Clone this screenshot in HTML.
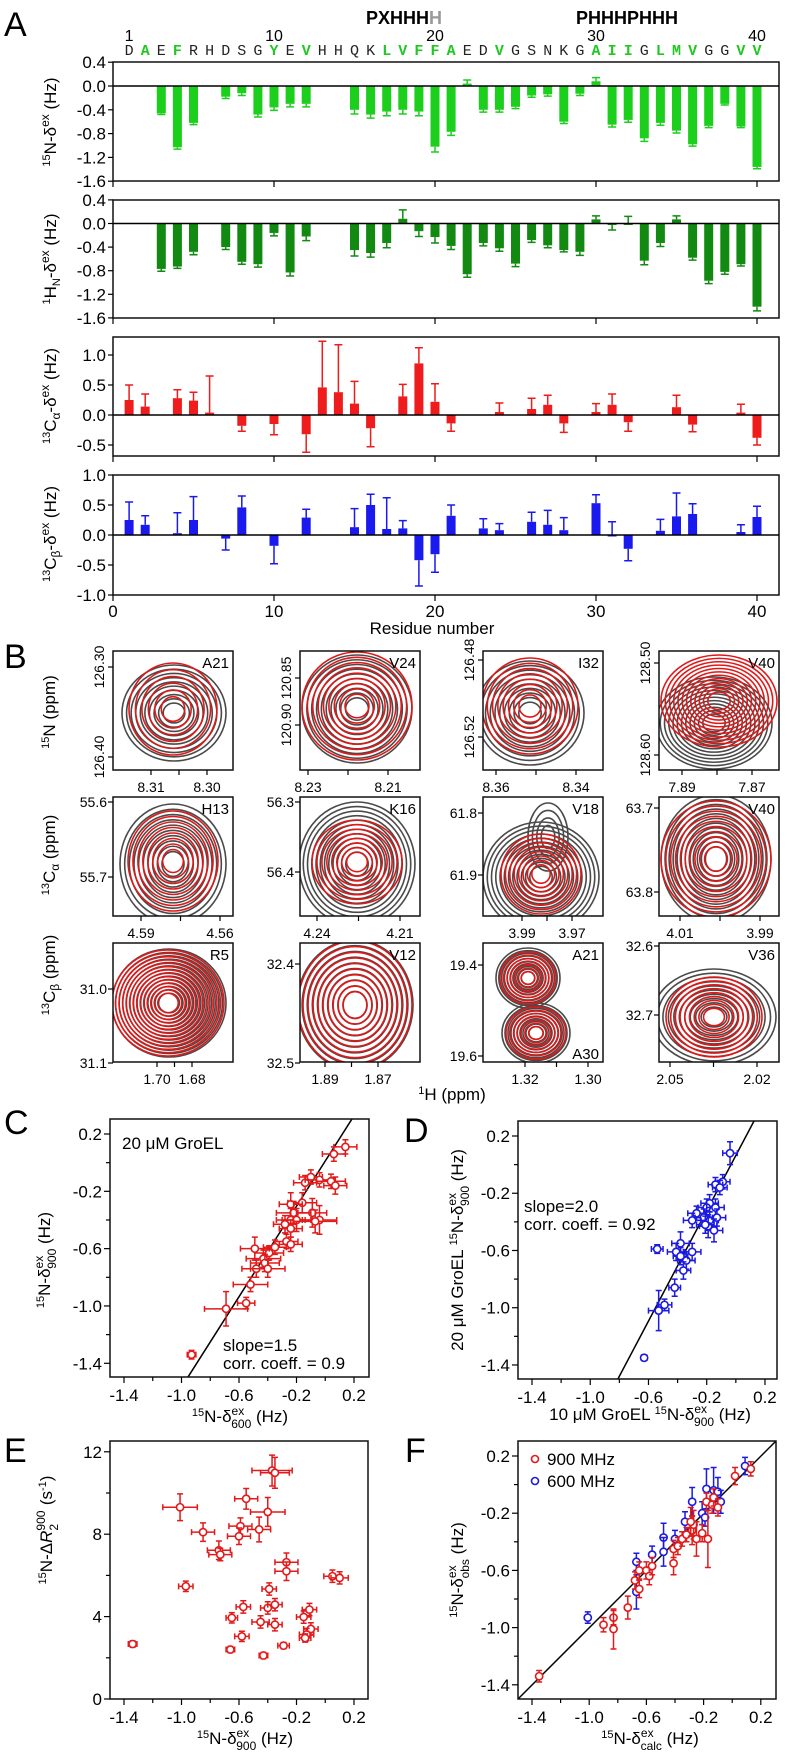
<!DOCTYPE html>
<html><head><meta charset="utf-8"><style>
html,body{margin:0;padding:0;background:#fff}
svg{display:block;font-family:"Liberation Sans",sans-serif}
</style></head><body>
<svg id="fig" width="787" height="1756" viewBox="0 0 787 1756" xmlns="http://www.w3.org/2000/svg">
<g font-size="34" fill="#000">
<text x="4" y="36">A</text>
<text x="4" y="668">B</text>
<text x="4" y="1134">C</text>
<text x="404" y="1142">D</text>
<text x="4" y="1462">E</text>
<text x="405" y="1462">F</text>
</g>
<g font-weight="bold" font-size="18">
<text x="366" y="24">PXHHH<tspan fill="#999">H</tspan></text>
<text x="576" y="24">PHHHPHHH</text>
</g>
<g font-size="17" text-anchor="middle">
<text transform="translate(56,122) rotate(-90)"><tspan font-size="11" dy="-6">15</tspan><tspan dy="6">N-δ</tspan><tspan font-size="12" dy="-7">ex</tspan><tspan dy="7"> (Hz)</tspan></text>
<text transform="translate(56,259) rotate(-90)"><tspan font-size="11" dy="-6">1</tspan><tspan dy="6">H</tspan><tspan font-size="11" dy="4">N</tspan><tspan dy="-4">-δ</tspan><tspan font-size="12" dy="-7">ex</tspan><tspan dy="7"> (Hz)</tspan></text>
<text transform="translate(56,396) rotate(-90)"><tspan font-size="11" dy="-6">13</tspan><tspan dy="6">C</tspan><tspan font-size="12" dy="4">α</tspan><tspan dy="-4">-δ</tspan><tspan font-size="12" dy="-7">ex</tspan><tspan dy="7"> (Hz)</tspan></text>
<text transform="translate(56,534) rotate(-90)"><tspan font-size="11" dy="-6">13</tspan><tspan dy="6">C</tspan><tspan font-size="12" dy="4">β</tspan><tspan dy="-4">-δ</tspan><tspan font-size="12" dy="-7">ex</tspan><tspan dy="7"> (Hz)</tspan></text>
<text x="432" y="634">Residue number</text>
<text transform="translate(55,712) rotate(-90)"><tspan font-size="11" dy="-6">15</tspan><tspan dy="6">N (ppm)</tspan></text>
<text transform="translate(55,855) rotate(-90)"><tspan font-size="11" dy="-6">13</tspan><tspan dy="6">C</tspan><tspan font-size="12" dy="4">α</tspan><tspan dy="-4"> (ppm)</tspan></text>
<text transform="translate(55,975) rotate(-90)"><tspan font-size="11" dy="-6">13</tspan><tspan dy="6">C</tspan><tspan font-size="12" dy="4">β</tspan><tspan dy="-4"> (ppm)</tspan></text>
<text x="452" y="1100"><tspan font-size="11" dy="-6">1</tspan><tspan dy="6">H (ppm)</tspan></text>
<text transform="translate(50,1260) rotate(-90)"><tspan font-size="11" dy="-6">15</tspan><tspan dy="6">N-δ</tspan><tspan font-size="12" dy="-7">ex</tspan><tspan font-size="12" dx="-13" dy="13">900</tspan><tspan dy="-6"> (Hz)</tspan></text>
<text x="240" y="1422"><tspan font-size="11" dy="-6">15</tspan><tspan dy="6">N-δ</tspan><tspan font-size="12" dy="-7">ex</tspan><tspan font-size="12" dx="-13" dy="13">600</tspan><tspan dy="-6"> (Hz)</tspan></text>
<text transform="translate(463,1250) rotate(-90)">20 μM GroEL <tspan font-size="11" dy="-6">15</tspan><tspan dy="6">N-δ</tspan><tspan font-size="12" dy="-7">ex</tspan><tspan font-size="12" dx="-13" dy="13">900</tspan><tspan dy="-6"> (Hz)</tspan></text>
<text x="650" y="1420">10 μM GroEL <tspan font-size="11" dy="-6">15</tspan><tspan dy="6">N-δ</tspan><tspan font-size="12" dy="-7">ex</tspan><tspan font-size="12" dx="-13" dy="13">900</tspan><tspan dy="-6"> (Hz)</tspan></text>
<text transform="translate(52,1530) rotate(-90)"><tspan font-size="11" dy="-6">15</tspan><tspan dy="6">N-Δ</tspan><tspan font-style="italic">R</tspan><tspan font-size="12" dy="-7">900</tspan><tspan font-size="12" dx="-20" dy="13">2</tspan><tspan dx="14" dy="-6"> (s</tspan><tspan font-size="11" dy="-6">-1</tspan><tspan dy="6">)</tspan></text>
<text x="245" y="1744"><tspan font-size="11" dy="-6">15</tspan><tspan dy="6">N-δ</tspan><tspan font-size="12" dy="-7">ex</tspan><tspan font-size="12" dx="-13" dy="13">900</tspan><tspan dy="-6"> (Hz)</tspan></text>
<text transform="translate(463,1570) rotate(-90)"><tspan font-size="11" dy="-6">15</tspan><tspan dy="6">N-δ</tspan><tspan font-size="12" dy="-7">ex</tspan><tspan font-size="12" dx="-13" dy="13">obs</tspan><tspan dy="-6"> (Hz)</tspan></text>
<text x="650" y="1744"><tspan font-size="11" dy="-6">15</tspan><tspan dy="6">N-δ</tspan><tspan font-size="12" dy="-7">ex</tspan><tspan font-size="12" dx="-13" dy="13">calc</tspan><tspan dy="-6"> (Hz)</tspan></text>
</g>
<g font-size="17">
<text x="122" y="1149">20 μM GroEL</text>
<text x="223" y="1351">slope=1.5</text>
<text x="223" y="1369">corr. coeff. = 0.9</text>
<text x="524" y="1212">slope=2.0</text>
<text x="524" y="1230">corr. coeff. = 0.92</text>
<circle cx="535" cy="1459" r="3.5" fill="none" stroke="#e21a1a" stroke-width="1.6"/>
<text x="547" y="1465">900 MHz</text>
<circle cx="535" cy="1481" r="3.5" fill="none" stroke="#1a1ae2" stroke-width="1.6"/>
<text x="547" y="1487">600 MHz</text>
</g>
</svg>
<script>
// ---------- Panel A data ----------
const seqLetters = "DAEFRHDSGYEVHHQKLVFFAEDVGSNKGAIIGLMVGGVV".split("");
const seqHighlight = [2,4,10,12,17,18,19,20,21,24,30,31,32,34,35,36,39,40];
const seqNumbers = [1,10,20,30,40];
const res15N = [3,4,5,7,8,9,10,11,12,15,16,17,18,19,20,21,22,23,24,25,26,27,28,29,30,31,32,33,34,35,36,37,38,39,40];
const val15N = [-0.46,-1.03,-0.62,-0.18,-0.12,-0.48,-0.36,-0.3,-0.3,-0.4,-0.48,-0.43,-0.4,-0.43,-1.02,-0.77,0.04,-0.4,-0.4,-0.35,-0.16,-0.14,-0.6,-0.13,0.08,-0.65,-0.57,-0.88,-0.62,-0.75,-0.98,-0.67,-0.3,-0.68,-1.36];
const err15N = [0.02,0.03,0.03,0.03,0.04,0.04,0.05,0.05,0.05,0.07,0.06,0.07,0.07,0.07,0.09,0.06,0.06,0.04,0.04,0.03,0.03,0.03,0.03,0.03,0.06,0.04,0.04,0.05,0.04,0.04,0.03,0.03,0.02,0.02,0.03];
const res1H = [3,4,5,7,8,9,10,11,12,15,16,17,18,19,20,21,22,23,24,25,26,27,28,29,30,31,32,33,34,35,36,37,38,39,40];
const val1H = [-0.77,-0.73,-0.48,-0.4,-0.65,-0.69,-0.16,-0.83,-0.22,-0.45,-0.5,-0.33,0.08,-0.13,-0.23,-0.38,-0.86,-0.33,-0.42,-0.68,-0.28,-0.37,-0.45,-0.48,0.07,-0.01,0.0,-0.63,-0.33,0.07,-0.58,-0.97,-0.82,-0.69,-1.41];
const err1H = [0.04,0.03,0.05,0.04,0.04,0.05,0.05,0.06,0.07,0.1,0.07,0.08,0.15,0.09,0.1,0.06,0.05,0.05,0.05,0.05,0.04,0.04,0.03,0.06,0.06,0.1,0.12,0.07,0.06,0.06,0.04,0.05,0.04,0.03,0.07];
const resCA = [1,2,4,5,6,8,10,12,13,14,15,16,18,19,20,21,24,26,27,28,30,31,32,35,36,39,40];
const valCA = [0.25,0.14,0.28,0.24,0.04,-0.18,-0.15,-0.32,0.46,0.38,0.19,-0.22,0.31,0.86,0.22,-0.14,0.05,0.1,0.17,-0.14,0.05,0.17,-0.12,0.13,-0.16,0.04,-0.38];
const errCA = [0.25,0.21,0.14,0.14,0.61,0.09,0.18,0.3,0.77,0.79,0.37,0.31,0.2,0.26,0.3,0.13,0.15,0.18,0.16,0.15,0.14,0.18,0.15,0.2,0.12,0.14,0.12];
const resCB = [1,2,4,5,7,8,10,12,15,16,17,18,19,20,21,23,24,26,27,28,30,31,32,34,35,36,39,40];
const valCB = [0.25,0.17,0.03,0.25,-0.06,0.46,-0.18,0.29,0.13,0.5,0.1,0.11,-0.42,-0.32,0.32,0.11,0.08,0.22,0.17,0.08,0.53,0.0,-0.23,0.07,0.31,0.35,0.05,0.3];
const errCB = [0.3,0.15,0.34,0.39,0.19,0.19,0.3,0.14,0.31,0.18,0.52,0.13,0.43,0.3,0.18,0.16,0.11,0.16,0.24,0.21,0.14,0.22,0.2,0.19,0.39,0.17,0.12,0.18];
const ticks15N = [0.4,0.0,-0.4,-0.8,-1.2,-1.6];
const ticksCA = [1.0,0.5,0.0,-0.5];
const ticksCB = [1.0,0.5,0.0,-0.5,-1.0];
const residueTicks = [0,10,20,30,40];

// ---------- Scatter data ----------
const cX = [0.14,0.06,-0.14,-0.10,-0.04,0.04,0.07,-0.16,-0.24,-0.09,-0.04,-0.22,-0.24,-0.20,-0.28,-0.24,-0.07,-0.27,-0.24,-0.35,-0.39,-0.49,-0.43,-0.42,-0.48,-0.40,-0.52,-0.55,-0.69,-0.93];
const cY = [0.11,0.06,-0.14,-0.10,-0.12,-0.13,-0.16,-0.28,-0.29,-0.35,-0.40,-0.35,-0.40,-0.40,-0.43,-0.46,-0.41,-0.55,-0.57,-0.59,-0.63,-0.60,-0.67,-0.70,-0.74,-0.74,-0.85,-0.98,-1.02,-1.34];
const cXerr = [0.08,0.08,0.08,0.08,0.1,0.1,0.08,0.1,0.08,0.1,0.12,0.12,0.1,0.1,0.08,0.08,0.15,0.08,0.08,0.08,0.1,0.1,0.12,0.1,0.1,0.12,0.12,0.06,0.15,0.03];
const cYerr = [0.05,0.05,0.05,0.05,0.05,0.05,0.06,0.07,0.08,0.1,0.1,0.08,0.08,0.08,0.06,0.06,0.08,0.05,0.05,0.05,0.05,0.08,0.06,0.06,0.06,0.06,0.05,0.04,0.12,0.03];
const dX = [-0.04,-0.09,-0.14,-0.11,-0.18,-0.20,-0.14,-0.27,-0.22,-0.18,-0.30,-0.13,-0.19,-0.15,-0.21,-0.54,-0.38,-0.41,-0.30,-0.34,-0.36,-0.38,-0.42,-0.49,-0.53,-0.63];
const dY = [0.08,-0.12,-0.14,-0.16,-0.27,-0.30,-0.30,-0.34,-0.37,-0.39,-0.39,-0.37,-0.43,-0.46,-0.42,-0.59,-0.55,-0.61,-0.61,-0.67,-0.74,-0.64,-0.86,-0.98,-1.02,-1.35];
const dXerr = [0.05,0.05,0.05,0.05,0.06,0.06,0.06,0.06,0.06,0.06,0.06,0.06,0.06,0.06,0.06,0.04,0.06,0.06,0.06,0.06,0.05,0.05,0.04,0.05,0.07,0.02];
const dYerr = [0.08,0.05,0.05,0.05,0.06,0.06,0.06,0.05,0.06,0.06,0.05,0.06,0.08,0.08,0.06,0.03,0.08,0.06,0.06,0.06,0.06,0.06,0.06,0.04,0.14,0.02];
const eX = [-1.01,-0.85,-0.74,-0.73,-0.55,-0.59,-0.60,-0.46,-0.40,-0.37,-0.35,-0.27,-0.27,0.05,0.10,-0.97,-0.39,-0.40,-0.35,-0.57,-0.65,-0.45,-0.35,-0.15,-0.11,-0.10,-0.13,-0.14,-0.58,-0.66,-0.43,-0.29,-1.34];
const eY = [9.31,8.10,7.22,7.01,9.72,8.39,7.90,8.23,9.08,11.09,10.98,6.64,6.20,5.96,5.88,5.47,5.34,4.42,4.58,4.47,3.94,3.74,3.61,3.98,4.34,3.40,3.13,2.96,3.04,2.40,2.11,2.59,2.67];
const eXerr = [0.12,0.08,0.08,0.08,0.08,0.08,0.08,0.08,0.12,0.14,0.1,0.08,0.08,0.06,0.06,0.05,0.05,0.05,0.05,0.05,0.04,0.06,0.05,0.05,0.05,0.05,0.05,0.04,0.05,0.03,0.03,0.04,0.03];
const eYerr = [0.65,0.45,0.45,0.3,0.5,0.4,0.4,0.6,0.7,0.75,0.75,0.45,0.45,0.3,0.3,0.25,0.3,0.3,0.3,0.3,0.25,0.3,0.3,0.3,0.3,0.3,0.3,0.2,0.25,0.15,0.15,0.15,0.15];
const fRedX = [-1.35,-0.90,-0.83,-0.83,-0.73,-0.68,-0.65,-0.65,-0.60,-0.58,-0.56,-0.41,-0.41,-0.38,-0.35,-0.32,-0.28,-0.27,-0.25,-0.21,-0.17,-0.18,-0.14,-0.13,-0.10,0.02,0.13,-0.29];
const fRedY = [-1.34,-0.98,-0.93,-1.01,-0.86,-0.67,-0.73,-0.60,-0.60,-0.64,-0.57,-0.55,-0.45,-0.43,-0.38,-0.35,-0.32,-0.28,-0.38,-0.34,-0.38,-0.12,-0.14,-0.09,-0.16,0.06,0.11,-0.26];
const fRedErr = [0.04,0.05,0.05,0.14,0.08,0.06,0.06,0.06,0.06,0.06,0.06,0.08,0.06,0.06,0.05,0.05,0.1,0.1,0.12,0.06,0.2,0.06,0.06,0.06,0.06,0.06,0.05,0.1];
const fBlueX = [-1.01,-0.67,-0.67,-0.56,-0.48,-0.48,-0.40,-0.33,-0.28,-0.21,-0.18,-0.13,-0.10,-0.08,-0.19,0.09];
const fBlueY = [-0.93,-0.54,-0.75,-0.49,-0.37,-0.47,-0.38,-0.26,-0.12,-0.20,-0.03,-0.04,-0.05,-0.12,-0.23,0.13];
const fBlueErr = [0.04,0.06,0.12,0.06,0.1,0.1,0.06,0.07,0.1,0.08,0.14,0.16,0.1,0.08,0.06,0.06];
const axisTicks = [-1.4,-1.0,-0.6,-0.2,0.2];
const axisMinor = [-1.2,-0.8,-0.4,0.0];
const eTicks = [0,4,8,12];
const eMinor = [2,6,10];

const NS = "http://www.w3.org/2000/svg";
const svg = document.getElementById("fig");
function mk(tag, attrs, parent){const e=document.createElementNS(NS,tag);for(const k in attrs)e.setAttribute(k,attrs[k]);(parent||svg).appendChild(e);return e;}
function fmt(v,d){return v.toFixed(d);}

// ---------- Panel A ----------
const xRes = r => 113 + 16.1*r;
seqLetters.forEach((ch,i)=>{
  const r=i+1, hl=seqHighlight.includes(r);
  const t=mk("text",{x:xRes(r),y:55,"text-anchor":"middle","font-family":"Liberation Mono, monospace","font-size":15,fill:hl?"#22c822":"#222","font-weight":hl?"bold":"normal"});
  t.textContent=ch;
  
  
});
seqNumbers.forEach(n=>{
  const t=mk("text",{x:xRes(n),y:41,"text-anchor":"middle","font-size":16});
  t.textContent=n;
  
  
});
const panels=[
 {top:62,bot:181,zero:86,sc:59.5,res:res15N,val:val15N,err:err15N,col:"#1ccf1c",ticks:ticks15N,dec:1,name:"15n",xl:false},
 {top:200,bot:318,zero:223.5,sc:59,res:res1H,val:val1H,err:err1H,col:"#128a12",ticks:ticks15N,dec:1,name:"1h",xl:false},
 {top:337,bot:456,zero:415,sc:60,res:resCA,val:valCA,err:errCA,col:"#ee1c1c",ticks:ticksCA,dec:1,name:"ca",xl:false},
 {top:475,bot:595,zero:535,sc:60,res:resCB,val:valCB,err:errCB,col:"#1a1aee",ticks:ticksCB,dec:1,name:"cb",xl:true}
];
panels.forEach(p=>{
  const y=v=>p.zero - v*p.sc;
  p.res.forEach((r,i)=>{
    const v=p.val[i], e=p.err[i], cx=xRes(r), dir=v<0?-1:1;
    const y0=y(0), y1=y(v);
    const b=mk("rect",{x:cx-4.5,y:Math.min(y0,y1),width:9,height:Math.max(Math.abs(y1-y0),1.5),fill:p.col});
    
    
    const ye=y(v+dir*e);
    const l=mk("path",{d:`M${cx},${y1}L${cx},${ye}M${cx-4},${ye}L${cx+4},${ye}`,stroke:p.col,"stroke-width":1.5,fill:"none"});
    
    
  });
  const f=mk("rect",{x:113,y:p.top,width:666,height:p.bot-p.top,fill:"none",stroke:"#111","stroke-width":1.5});
  
  
  const z=mk("line",{x1:113,x2:779,y1:y(0),y2:y(0),stroke:"#000","stroke-width":1.5});
  
  
  p.ticks.forEach(t=>{
    const tk=mk("line",{x1:108,x2:113,y1:y(t),y2:y(t),stroke:"#000","stroke-width":1.2});
    
    
    const tl=mk("text",{x:106,y:y(t)+6,"text-anchor":"end","font-size":17});
    tl.textContent=fmt(t,1);
    
    
  });
  residueTicks.forEach(r=>{
    const tk=mk("line",{x1:xRes(r),x2:xRes(r),y1:p.bot,y2:p.bot+6,stroke:"#000","stroke-width":1.2});
    
    
    if(p.xl){
      const tl=mk("text",{x:xRes(r),y:p.bot+22,"text-anchor":"middle","font-size":17});
      tl.textContent=r;
      
      
    }
  });
});

// ---------- Panel B contour plots ----------
const contourPlots=[
 {x:113,y:651,lab:"A21",g:[[61,62,52,48,10]],r:[[60,58,44,46,6]],yl:[["126.30",667],["126.40",757]],rot:true,xl:[["8.31",151],["8.30",207]]},
 {x:300,y:651,lab:"V24",g:[[57,58,55,54,10]],r:[[57,55,55,54,9]],yl:[["120.85",678],["120.90",725]],rot:true,xl:[["8.23",308],["8.21",388]]},
 {x:483,y:651,lab:"I32",g:[[47,62,54,52,10]],r:[[47,55,48,48,8]],yl:[["126.48",660],["126.52",737]],rot:true,xl:[["8.36",496],["8.34",576]]},
 {x:659,y:651,lab:"V40",g:[[55,72,58,46,12]],r:[[60,50,58,46,12]],yl:[["128.50",663],["128.60",755]],rot:true,xl:[["7.89",682],["7.87",752]]},
 {x:113,y:797,lab:"H13",g:[[60,67,53,60,10]],r:[[60,64,45,50,8]],yl:[["55.6",802],["55.7",877]],rot:false,xl:[["4.59",141],["4.56",220]]},
 {x:300,y:797,lab:"K16",g:[[57,67,58,62,12]],r:[[57,65,45,42,8]],yl:[["56.3",802],["56.4",872]],rot:false,xl:[["4.24",317],["4.21",400]]},
 {x:483,y:797,lab:"V18",g:[[58,80,58,55,12],[65,40,20,34,4]],r:[[58,77,40,40,8]],yl:[["61.8",813],["61.9",875]],rot:false,xl:[["3.99",522],["3.97",572]]},
 {x:659,y:797,lab:"V40",g:[[57,62,55,64,12]],r:[[57,62,55,58,10]],yl:[["63.7",808],["63.8",892]],rot:false,xl:[["4.01",680],["3.99",760]]},
 {x:113,y:943,lab:"R5",g:[[56,60,57,54,14]],r:[[55,60,56,53,14]],yl:[["31.0",989],["31.1",1063]],rot:false,xl:[["1.70",157],["1.68",192]]},
 {x:300,y:943,lab:"V12",g:[[55,62,58,65,10]],r:[[55,62,57,64,10]],yl:[["32.4",964],["32.5",1063]],rot:false,xl:[["1.89",325],["1.87",378]]},
 {x:483,y:943,lab:"A21",g:[[45,35,32,30,10],[53,90,34,30,10]],r:[[45,35,28,26,7],[53,90,30,26,7]],yl:[["19.4",965],["19.6",1056]],rot:false,xl:[["1.32",525],["1.30",588]],lab2:"A30"},
 {x:659,y:943,lab:"V36",g:[[55,74,62,48,10]],r:[[55,74,48,40,9]],yl:[["32.6",946],["32.7",1015]],rot:false,xl:[["2.05",670],["2.02",757]]}
];
contourPlots.forEach((c,i)=>{
  const W=120,H=119;
  const cp=mk("clipPath",{id:"clip"+i});
  mk("rect",{x:c.x,y:c.y,width:W,height:H},cp);
  const g=mk("g",{"clip-path":`url(#clip${i})`,fill:"none","stroke-width":1.6});
  
  
  [["#4a4a4a",c.g],["#e01818",c.r]].forEach(([col,sets])=>{
    sets.forEach(s=>{
      const [cx,cy,rx,ry,n]=s;
      for(let k=1;k<=n;k++){
        const f=0.12+0.88*k/n;
        const el=mk("ellipse",{cx:c.x+cx,cy:c.y+cy,rx:rx*f,ry:ry*f,stroke:col},g);
        
        
      }
    });
  });
  const fr=mk("rect",{x:c.x,y:c.y,width:W,height:H,fill:"none",stroke:"#111","stroke-width":1.5});
  
  
  const lt=mk("text",{x:c.x+W-4,y:c.y+17,"text-anchor":"end","font-size":15});
  lt.textContent=c.lab;
  
  
  if(c.lab2){
    const l2=mk("text",{x:c.x+W-4,y:c.y+H-3,"text-anchor":"end","font-size":15});
    l2.textContent=c.lab2;
    
    
  }
  c.yl.forEach(([t,yy])=>{
    const tk=mk("line",{x1:c.x-5,x2:c.x,y1:yy,y2:yy,stroke:"#000","stroke-width":1.2});
    
    
    let tl;
    if(c.rot){ tl=mk("text",{transform:`translate(${c.x-9},${yy}) rotate(-90)`,"text-anchor":"middle","font-size":14}); }
    else { tl=mk("text",{x:c.x-6,y:yy+5,"text-anchor":"end","font-size":14}); }
    tl.textContent=t;
    
    
  });
  const xs=c.xl.map(a=>a[1]);
  [xs[0],(xs[0]+xs[1])/2,xs[1]].forEach(xx=>{
    const tk=mk("line",{x1:xx,x2:xx,y1:c.y+H,y2:c.y+H+5,stroke:"#000","stroke-width":1.2});
    
    
  });
  c.xl.forEach(([t,xx])=>{
    const tl=mk("text",{x:xx,y:c.y+H+22,"text-anchor":"middle","font-size":14});
    tl.textContent=t;
    
    
  });
});

// ---------- Scatter panels ----------
function scatterAxes(box,xs,ys,yt,ym,ydec,name){
  const f=mk("rect",{x:box.x0,y:box.y0,width:box.x1-box.x0,height:box.y1-box.y0,fill:"none",stroke:"#111","stroke-width":1.5});
  
  
  axisTicks.concat(axisMinor).forEach(t=>{
    const maj=axisTicks.includes(t);
    const tk=mk("line",{x1:xs(t),x2:xs(t),y1:box.y1,y2:box.y1+(maj?6:4),stroke:"#000","stroke-width":1.2});
    
    
    if(maj){
      const tl=mk("text",{x:xs(t),y:box.y1+24,"text-anchor":"middle","font-size":17});
      tl.textContent=fmt(t,1);
      
      
    }
  });
  yt.concat(ym).forEach(t=>{
    const maj=yt.includes(t);
    const tk=mk("line",{x1:box.x0-(maj?6:4),x2:box.x0,y1:ys(t),y2:ys(t),stroke:"#000","stroke-width":1.2});
    
    
    if(maj){
      const tl=mk("text",{x:box.x0-8,y:ys(t)+6,"text-anchor":"end","font-size":17});
      tl.textContent=ydec?fmt(t,1):String(t);
      
      
    }
  });
}
function point(cx,cy,ex,ey,col,name){
  let d=`M${cx},${cy-ey}L${cx},${cy+ey}M${cx-3},${cy-ey}L${cx+3},${cy-ey}M${cx-3},${cy+ey}L${cx+3},${cy+ey}`;
  if(ex>0) d+=`M${cx-ex},${cy}L${cx+ex},${cy}M${cx-ex},${cy-3}L${cx-ex},${cy+3}M${cx+ex},${cy-3}L${cx+ex},${cy+3}`;
  const e=mk("path",{d:d,stroke:col,"stroke-width":1.5,fill:"none"});
  
  
  const c=mk("circle",{cx:cx,cy:cy,r:3.6,fill:"#fff",stroke:col,"stroke-width":1.6});
  
  
}
// C
const cxs=v=>124+(v+1.4)*143.75, cys=v=>1134-(v-0.2)*143.3;
const cBox={x0:110,x1:369,y0:1119,y1:1377};
const cl=mk("line",{x1:cxs(-0.955),y1:cys(-1.496),x2:cxs(0.186),y2:cys(0.305),stroke:"#000","stroke-width":1.5});


cX.forEach((v,i)=>point(cxs(v),cys(cY[i]),cXerr[i]*143.75,cYerr[i]*143.3,"#e21a1a","c"));
scatterAxes(cBox,cxs,cys,axisTicks,axisMinor,true,"c");
// D
const dxs=v=>532+(v+1.4)*145.6, dys=v=>1136-(v-0.2)*143.1;
const dBox={x0:518,x1:777,y0:1121,y1:1379};
const dl=mk("line",{x1:dxs(-0.81),y1:dys(-1.498),x2:dxs(0.125),y2:dys(0.305),stroke:"#000","stroke-width":1.5});


dX.forEach((v,i)=>point(dxs(v),dys(dY[i]),dXerr[i]*145.6,dYerr[i]*143.1,"#1a1ae2","d"));
scatterAxes(dBox,dxs,dys,axisTicks,axisMinor,true,"d");
// E
const exs=v=>124+(v+1.4)*143.75, eys=v=>1699-v*20.6;
const eBox={x0:110,x1:368,y0:1441,y1:1699};
eX.forEach((v,i)=>point(exs(v),eys(eY[i]),eXerr[i]*143.75,eYerr[i]*20.6,"#e21a1a","e"));
scatterAxes(eBox,exs,eys,eTicks,eMinor,false,"e");
// F
const fxs=v=>532+(v+1.4)*143, fys=v=>1456-(v-0.2)*143;
const fBox={x0:518,x1:776,y0:1441,y1:1699};
const fl=mk("line",{x1:518,y1:1699,x2:776,y2:1441,stroke:"#000","stroke-width":1.5});


fBlueX.forEach((v,i)=>point(fxs(v),fys(fBlueY[i]),0,fBlueErr[i]*143,"#1a1ae2","f-600"));
fRedX.forEach((v,i)=>point(fxs(v),fys(fRedY[i]),0,fRedErr[i]*143,"#e21a1a","f-900"));
scatterAxes(fBox,fxs,fys,axisTicks,axisMinor,true,"f");
</script>
</body></html>
